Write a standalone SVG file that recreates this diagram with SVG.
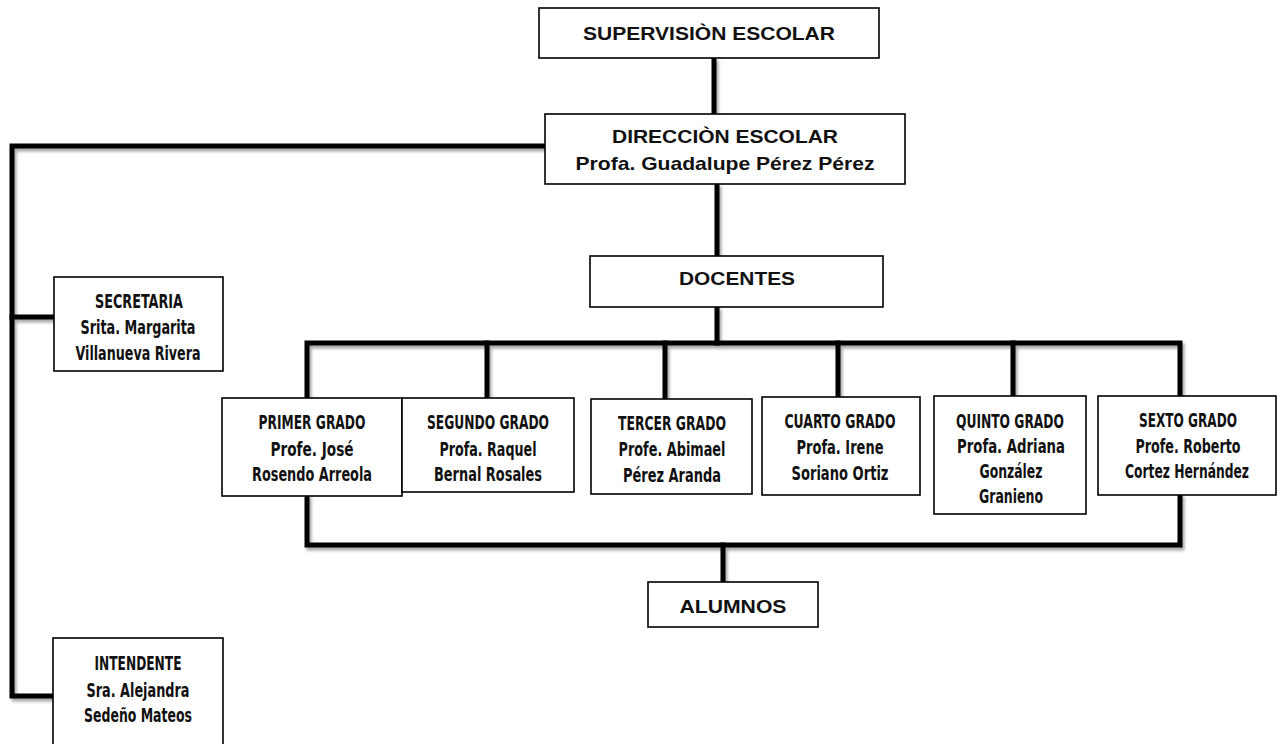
<svg xmlns="http://www.w3.org/2000/svg" width="1278" height="744" viewBox="0 0 1278 744">
  <defs>
    <filter id="shadow" x="-10%" y="-10%" width="120%" height="120%">
      <feDropShadow dx="2" dy="3" stdDeviation="1.8" flood-color="#000" flood-opacity="0.35"/>
    </filter>
  </defs>
  <style>
    .box { fill: #fff; stroke: #000; stroke-width: 1.6; }
    .wire { fill: none; stroke: #000; stroke-width: 5; stroke-linejoin: miter; stroke-linecap: square; }
    .main { font-family: "Liberation Sans", Arial, sans-serif; font-weight: bold; font-size: 19px; fill: #111; text-anchor: middle; }
    .cond { font-family: "Liberation Sans Narrow", "DejaVu Sans Condensed", sans-serif; font-weight: bold; font-size: 19px; fill: #111; text-anchor: middle; }
  </style>
  <rect width="1278" height="744" fill="#fff"/>

  <!-- connectors -->
  <g id="connectors" class="wire" filter="url(#shadow)">
    <!-- supervision to direction -->
    <path d="M714 60 V114"/>
    <!-- direction to staff column on the left -->
    <path d="M545 146 H12 V696 H53"/>
    <path d="M12 317 H54"/>
    <!-- direction to teachers -->
    <path d="M717 186 V256"/>
    <!-- teachers to grade bus -->
    <path d="M717 309 V343"/>
    <path d="M307 398 V343 H1180 V396"/>
    <path d="M487 343 V398"/>
    <path d="M665 343 V399"/>
    <path d="M838 343 V397"/>
    <path d="M1013 343 V396"/>
    <!-- grades to students -->
    <path d="M307 497 V545 H1180 V496"/>
    <path d="M723 545 V582"/>
  </g>

  <g id="supervision">
    <rect class="box" x="539" y="8" width="340" height="50"/>
    <text class="main" x="709" y="40" textLength="252" lengthAdjust="spacingAndGlyphs">SUPERVISIÒN ESCOLAR</text>
  </g>

  <g id="direccion">
    <rect class="box" x="545" y="114" width="360" height="70"/>
    <text class="main" x="725" y="143" textLength="226" lengthAdjust="spacingAndGlyphs">DIRECCIÒN ESCOLAR</text>
    <text class="main" x="725" y="170" textLength="299" lengthAdjust="spacingAndGlyphs">Profa. Guadalupe Pérez Pérez</text>
  </g>

  <g id="docentes">
    <rect class="box" x="590" y="256" width="293" height="51"/>
    <text class="main" x="737" y="285" textLength="116" lengthAdjust="spacingAndGlyphs">DOCENTES</text>
  </g>

  <g id="secretaria">
    <rect class="box" x="54" y="277" width="169" height="94"/>
    <text class="cond" x="139" y="308" textLength="88" lengthAdjust="spacingAndGlyphs">SECRETARIA</text>
    <text class="cond" x="138" y="334" textLength="115" lengthAdjust="spacingAndGlyphs">Srita. Margarita</text>
    <text class="cond" x="138" y="360" textLength="125" lengthAdjust="spacingAndGlyphs">Villanueva Rivera</text>
  </g>

  <g id="intendente">
    <rect class="box" x="53" y="638" width="170" height="120"/>
    <text class="cond" x="138" y="670" textLength="87" lengthAdjust="spacingAndGlyphs">INTENDENTE</text>
    <text class="cond" x="138" y="697" textLength="103" lengthAdjust="spacingAndGlyphs">Sra. Alejandra</text>
    <text class="cond" x="138" y="722" textLength="108" lengthAdjust="spacingAndGlyphs">Sedeño Mateos</text>
  </g>

  <g id="primer-grado">
    <rect class="box" x="222" y="398" width="180" height="98"/>
    <text class="cond" x="312" y="429" textLength="107" lengthAdjust="spacingAndGlyphs">PRIMER GRADO</text>
    <text class="cond" x="312" y="456" textLength="83" lengthAdjust="spacingAndGlyphs">Profe. José</text>
    <text class="cond" x="312" y="481" textLength="120" lengthAdjust="spacingAndGlyphs">Rosendo Arreola</text>
  </g>

  <g id="segundo-grado">
    <rect class="box" x="402" y="398" width="172" height="94"/>
    <text class="cond" x="488" y="429" textLength="122" lengthAdjust="spacingAndGlyphs">SEGUNDO GRADO</text>
    <text class="cond" x="488" y="456" textLength="97" lengthAdjust="spacingAndGlyphs">Profa. Raquel</text>
    <text class="cond" x="488" y="481" textLength="108" lengthAdjust="spacingAndGlyphs">Bernal Rosales</text>
  </g>

  <g id="tercer-grado">
    <rect class="box" x="591" y="399" width="161" height="95"/>
    <text class="cond" x="672" y="430" textLength="108" lengthAdjust="spacingAndGlyphs">TERCER GRADO</text>
    <text class="cond" x="672" y="456" textLength="107" lengthAdjust="spacingAndGlyphs">Profe. Abimael</text>
    <text class="cond" x="672" y="482" textLength="98" lengthAdjust="spacingAndGlyphs">Pérez Aranda</text>
  </g>

  <g id="cuarto-grado">
    <rect class="box" x="762" y="397" width="158" height="98"/>
    <text class="cond" x="840" y="428" textLength="111" lengthAdjust="spacingAndGlyphs">CUARTO GRADO</text>
    <text class="cond" x="840" y="454" textLength="87" lengthAdjust="spacingAndGlyphs">Profa. Irene</text>
    <text class="cond" x="840" y="480" textLength="97" lengthAdjust="spacingAndGlyphs">Soriano Ortiz</text>
  </g>

  <g id="quinto-grado">
    <rect class="box" x="934" y="396" width="152" height="118"/>
    <text class="cond" x="1010" y="428" textLength="108" lengthAdjust="spacingAndGlyphs">QUINTO GRADO</text>
    <text class="cond" x="1011" y="453" textLength="108" lengthAdjust="spacingAndGlyphs">Profa. Adriana</text>
    <text class="cond" x="1011" y="478" textLength="63" lengthAdjust="spacingAndGlyphs">González</text>
    <text class="cond" x="1011" y="503" textLength="64" lengthAdjust="spacingAndGlyphs">Granieno</text>
  </g>

  <g id="sexto-grado">
    <rect class="box" x="1098" y="396" width="178" height="99"/>
    <text class="cond" x="1188" y="427" textLength="98" lengthAdjust="spacingAndGlyphs">SEXTO GRADO</text>
    <text class="cond" x="1188" y="453" textLength="105" lengthAdjust="spacingAndGlyphs">Profe. Roberto</text>
    <text class="cond" x="1187" y="478" font-size="16" textLength="124" lengthAdjust="spacingAndGlyphs">Cortez Hernández</text>
  </g>

  <g id="alumnos">
    <rect class="box" x="648" y="582" width="170" height="45"/>
    <text class="main" x="733" y="613" textLength="107" lengthAdjust="spacingAndGlyphs">ALUMNOS</text>
  </g>
</svg>
